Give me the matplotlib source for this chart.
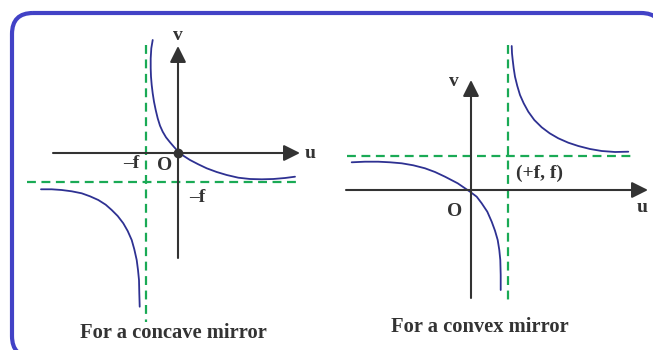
import matplotlib.pyplot as plt
from matplotlib.path import Path
from matplotlib.patches import PathPatch

# curve points (pixel space of the original sketch)
concave_upper_u = [152.7, 151.3, 150.7, 150.7, 151, 151.7, 152.7, 154, 155.7, 157.7,
                   160, 162.7, 166, 170, 174.3, 178.3, 183.3, 190, 198.3, 206.7,
                   216.7, 226.7, 238.3, 250, 261.7, 273.3, 285, 295]
concave_upper_v = [40, 48.3, 58.3, 68.3, 76.7, 85, 93.3, 101.7, 110, 118.3,
                   125.7, 131.7, 137.3, 142.3, 147.3, 151.7, 155.7, 160, 164.3, 168.3,
                   172, 175, 177.7, 179, 179.3, 179, 178, 176.7]
concave_lower_u = [41, 51.7, 61.7, 71.7, 81.7, 90, 98.3, 105.7, 111.7, 117.7,
                   123.3, 127.7, 131.7, 134.3, 136.7, 138, 139, 139.3, 139.7]
concave_lower_v = [189.3, 189.3, 190, 191.3, 193.3, 196.3, 200, 204.7, 210, 216,
                   223.3, 231, 240, 249.3, 260, 270, 280, 293.3, 306.7]

convex_upper_u = [511.7, 512, 512.7, 513.7, 515, 517.3, 520, 523.7, 528.3, 534.3,
                  541.7, 549.7, 558.3, 568.3, 578.3, 590, 601.7, 615, 628.3]
convex_upper_v = [46, 53.3, 60, 68.3, 76.7, 86, 95, 103.3, 111.7, 120,
                  127.3, 133.3, 138.3, 142.7, 146, 149, 151, 152, 151.7]
convex_lower_u = [351.7, 365, 378.3, 390, 401.7, 413.3, 425, 435, 445, 457.7, 470,
                  476.7, 481.7, 487.3, 491.7, 495, 497.7, 499.3, 500.3, 500.7, 500.7]
convex_lower_v = [162.3, 161.7, 161.7, 162.3, 163.3, 165.3, 168.3, 172, 176.7, 183.3, 191.7,
                  196.7, 203.3, 211.7, 221.7, 230.7, 240, 250, 260, 275, 290]

AXIS = "#333333"
CURVE = "#2E3192"
GREEN = "#1AAA55"
BORDER = "#4242C6"
FONT = "Liberation Serif"

fig = plt.figure(figsize=(6.53, 3.5), dpi=100)
ax = fig.add_axes([0, 0, 1, 1])
ax.set_xlim(0, 653)
ax.set_ylim(350, 0)
ax.axis("off")

# rounded frame, running off the right and bottom edges
x0, y0, x1, y1, r = 12, 13, 662, 357, 21
verts = [(x0 + r, y0), (x1 - r, y0), (x1, y0), (x1, y0 + r),
         (x1, y1 - r), (x1, y1), (x1 - r, y1),
         (x0 + r, y1), (x0, y1), (x0, y1 - r),
         (x0, y0 + r), (x0, y0), (x0 + r, y0)]
codes = [Path.MOVETO, Path.LINETO, Path.CURVE3, Path.CURVE3,
         Path.LINETO, Path.CURVE3, Path.CURVE3,
         Path.LINETO, Path.CURVE3, Path.CURVE3,
         Path.LINETO, Path.CURVE3, Path.CURVE3]
ax.add_patch(PathPatch(Path(verts, codes), fc="white", ec=BORDER, lw=3, zorder=0))


def axis_arrow(xa, ya, xb, yb):
    ax.annotate("", xy=(xb, yb), xytext=(xa, ya),
                arrowprops=dict(arrowstyle="-|>,head_length=0.7,head_width=0.35",
                                color=AXIS, lw=1.5, mutation_scale=14,
                                shrinkA=0, shrinkB=0))


def label(x, y, s, ha="center", size=14):
    ax.text(x, y, s, ha=ha, va="center", fontsize=size, fontweight="bold",
            family=FONT, color=AXIS)


dash = (0, (4, 2.5))
curve_kw = dict(color=CURVE, lw=1.3, solid_joinstyle="round", solid_capstyle="round")

# concave mirror
ax.plot([146, 146], [45, 322], color=GREEN, lw=1.6, ls=dash)
ax.plot([27, 298], [182, 182], color=GREEN, lw=1.6, ls=dash)
axis_arrow(53, 153, 300, 153)
axis_arrow(178, 258, 178, 46)
ax.plot(concave_upper_u, concave_upper_v, **curve_kw)
ax.plot(concave_lower_u, concave_lower_v, **curve_kw)
ax.plot([178], [153], "o", color=AXIS, ms=6)
label(178, 35, "v")
label(310, 153, "u")
label(139, 164, "\u2013f", ha="right")
label(165, 165, "O")
label(197, 197, "\u2013f")
label(173, 333, "For a concave mirror", size=14.8)

# convex mirror
ax.plot([508, 508], [45, 303], color=GREEN, lw=1.6, ls=dash)
ax.plot([347, 632], [156, 156], color=GREEN, lw=1.6, ls=dash)
axis_arrow(346, 190, 648, 190)
axis_arrow(471, 298, 471, 80)
ax.plot(convex_upper_u, convex_upper_v, **curve_kw)
ax.plot(convex_lower_u, convex_lower_v, **curve_kw)
label(454, 82, "v")
label(642, 207, "u")
label(455, 212, "O")
label(516, 173, "(+f, f)", ha="left")
label(480, 327, "For a convex mirror", size=14.8)

fig.savefig("out.png", dpi=100)
